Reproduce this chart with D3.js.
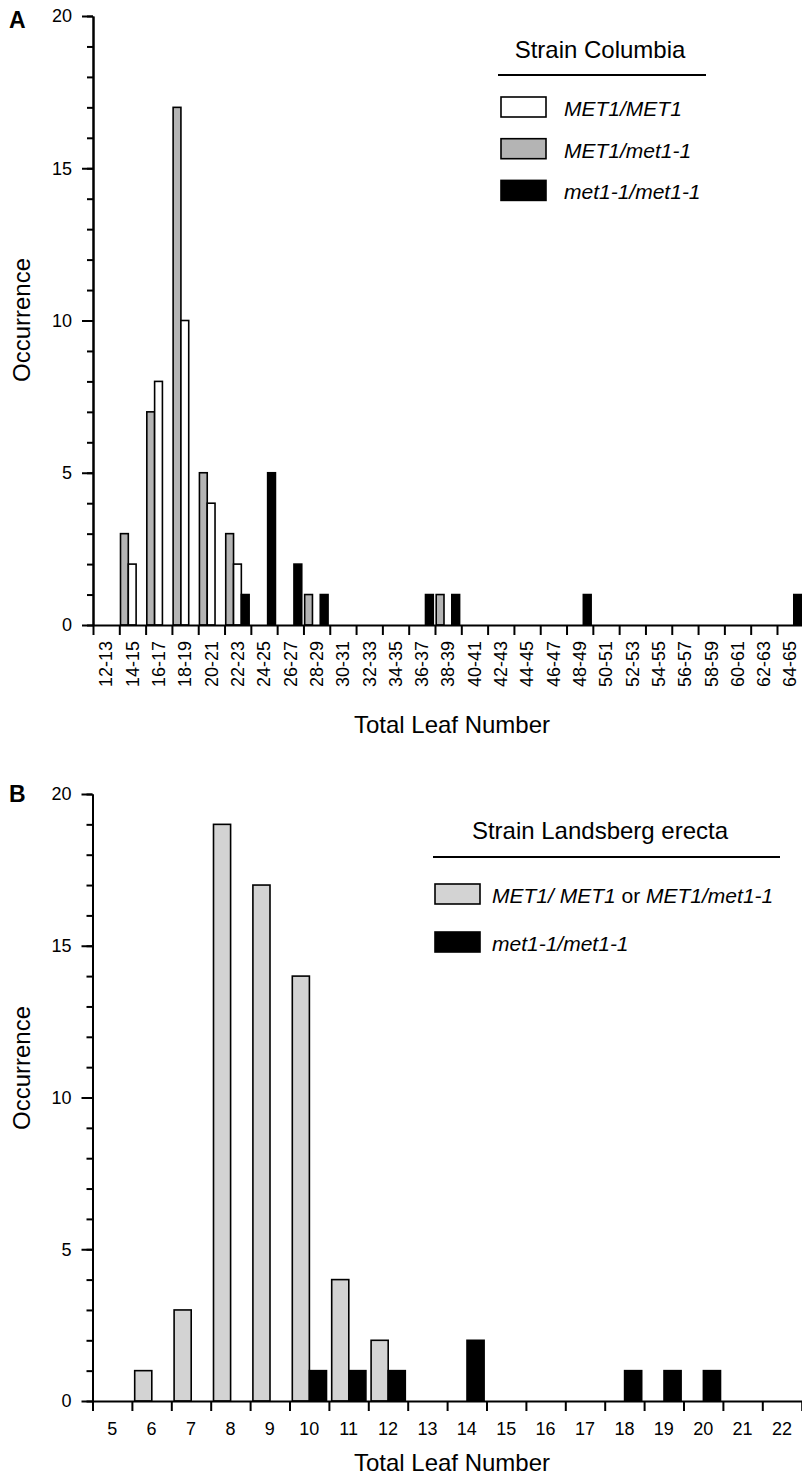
<!DOCTYPE html>
<html>
<head>
<meta charset="utf-8">
<script src="https://cdn.jsdelivr.net/npm/d3@7"></script>
<style>
  body { margin: 0; background: #fff; }
  svg { display: block; background: #fff; font-family: "Liberation Sans", Arial, Helvetica, sans-serif; }
  .domain, .tick line { stroke: #000; stroke-width: 2; }
  .tick text { font-size: 18px; fill: #000; font-family: "Liberation Sans", Arial, Helvetica, sans-serif; }
</style>
</head>
<body>
<div id="chart"></div>
<script>
// Panel A - strain Columbia
const colCategories = ["12-13", "14-15", "16-17", "18-19", "20-21", "22-23", "24-25", "26-27", "28-29",
  "30-31", "32-33", "34-35", "36-37", "38-39", "40-41", "42-43", "44-45", "46-47", "48-49",
  "50-51", "52-53", "54-55", "56-57", "58-59", "60-61", "62-63", "64-65"]
const colHet = [0, 3, 7, 17, 5, 3, 0, 0, 1, 0, 0, 0, 0, 1, 0, 0, 0, 0, 0, 0, 0, 0, 0, 0, 0, 0, 0]
const colWild = [0, 2, 8, 10, 4, 2, 0, 0, 0, 0, 0, 0, 0, 0, 0, 0, 0, 0, 0, 0, 0, 0, 0, 0, 0, 0, 0]
const colMutant = [0, 0, 0, 0, 0, 1, 5, 2, 1, 0, 0, 0, 1, 1, 0, 0, 0, 0, 1, 0, 0, 0, 0, 0, 0, 0, 1]

// Panel B - strain Landsberg erecta
const lerCategories = ["5", "6", "7", "8", "9", "10", "11", "12", "13", "14", "15", "16", "17", "18", "19", "20", "21", "22"]
const lerWild = [0, 1, 3, 19, 17, 14, 4, 2, 0, 0, 0, 0, 0, 0, 0, 0, 0, 0]
const lerMutant = [0, 0, 0, 0, 0, 1, 1, 1, 0, 2, 0, 0, 0, 1, 1, 1, 0, 0]

const yMajorTicks = [0, 5, 10, 15, 20]
const yMinorTicks = d3.range(0, 21)

const WIDTH = 802
const HEIGHT = 1476

const SVG = d3.select("#chart")
  .append("svg")
  .attr("width", WIDTH)
  .attr("height", HEIGHT)

function drawPanel(p) {
  const g = SVG.append("g")

  const x = d3.scaleBand().domain(p.categories).range([p.left, p.right])
  const xIdx = d3.scaleLinear().domain([0, p.categories.length]).range([p.left, p.right])
  const y = d3.scaleLinear().domain([0, 20]).range([p.bottom, p.top])
  const slot = d3.scaleBand().domain(p.series.map(s => s.name)).range(p.slotRange)

  // bars
  p.series.forEach(s => {
    g.selectAll(null)
      .data(s.values.map((v, i) => ({ cat: p.categories[i], v: v })).filter(d => d.v > 0))
      .join("rect")
      .attr("x", d => x(d.cat) + slot(s.name))
      .attr("y", d => y(d.v))
      .attr("width", slot.bandwidth())
      .attr("height", d => y(0) - y(d.v))
      .attr("fill", s.fill)
      .attr("stroke", "#000")
      .attr("stroke-width", 1.6)
  })

  // y axis: minor then major ticks
  g.append("g")
    .attr("transform", `translate(${p.left},0)`)
    .call(d3.axisLeft(y).tickValues(yMinorTicks).tickSize(6).tickSizeOuter(0).tickFormat(""))

  g.append("g")
    .attr("transform", `translate(${p.left},0)`)
    .call(d3.axisLeft(y).tickValues(yMajorTicks).tickSize(11).tickPadding(10).tickSizeOuter(0))

  // x axis: ticks on category boundaries
  g.append("g")
    .attr("transform", `translate(0,${p.bottom})`)
    .call(d3.axisBottom(xIdx).tickValues(d3.range(p.categories.length + 1)).tickSize(10).tickSizeOuter(0).tickFormat(""))

  // x labels centred in each category
  const xl = g.append("g")
    .attr("transform", `translate(0,${p.bottom})`)
    .call(d3.axisBottom(x).tickSize(0).tickSizeOuter(0).tickPadding(21))
  xl.select(".domain").remove()
  if (p.rotate) {
    xl.selectAll("text")
      .attr("transform", "rotate(-90)")
      .attr("text-anchor", "end")
      .attr("x", -16)
      .attr("y", 0)
      .attr("dy", "0.35em")
  }

  // axis titles
  g.append("text")
    .text("Total Leaf Number")
    .attr("x", p.xTitle[0])
    .attr("y", p.xTitle[1])
    .attr("text-anchor", "middle")
    .attr("font-size", 24)

  g.append("text")
    .text("Occurrence")
    .attr("transform", `translate(30,${p.yTitleY}) rotate(-90)`)
    .attr("text-anchor", "middle")
    .attr("font-size", 24)

  // panel letter
  g.append("text")
    .text(p.letter)
    .attr("x", 9)
    .attr("y", p.letterY)
    .attr("font-size", 23)
    .attr("font-weight", "bold")

  // legend
  const lg = p.legend
  g.append("text")
    .text(lg.title)
    .attr("x", lg.titleX)
    .attr("y", lg.titleY)
    .attr("text-anchor", "middle")
    .attr("font-size", 24)

  g.append("line")
    .attr("x1", lg.line[0]).attr("x2", lg.line[1])
    .attr("y1", lg.line[2]).attr("y2", lg.line[2])
    .attr("stroke", "#000")
    .attr("stroke-width", 2)

  const entries = g.selectAll("g.legend-entry")
    .data(lg.entries)
    .join("g")
    .attr("class", "legend-entry")
    .attr("transform", (d, i) => `translate(${lg.boxX},${lg.firstY + lg.step * i})`)

  entries.append("rect")
    .attr("width", 45)
    .attr("height", 20)
    .attr("fill", d => d.fill)
    .attr("stroke", "#000")
    .attr("stroke-width", 1.6)

  entries.append("text")
    .attr("x", lg.textDx)
    .attr("y", 19)
    .attr("font-size", 21)
    .selectAll("tspan")
    .data(d => d.label)
    .join("tspan")
    .text(d => d[0])
    .attr("font-style", d => d[1] ? "italic" : "normal")
}

const GRAY_A = "#b4b4b4"
const GRAY_B = "#d3d3d3"

drawPanel({
  letter: "A",
  letterY: 28,
  categories: colCategories,
  left: 93,
  right: 803.3,
  top: 16,
  bottom: 625,
  slotRange: [1.2, 24.6],
  rotate: true,
  series: [
    { name: "het", values: colHet, fill: GRAY_A },
    { name: "wild", values: colWild, fill: "#fff" },
    { name: "mutant", values: colMutant, fill: "#000" }
  ],
  xTitle: [452, 733],
  yTitleY: 320,
  legend: {
    title: "Strain Columbia",
    titleX: 600,
    titleY: 58,
    line: [498, 706, 75],
    boxX: 501,
    firstY: 97,
    step: 41.7,
    textDx: 63,
    entries: [
      { fill: "#fff", label: [["MET1/MET1", true]] },
      { fill: GRAY_A, label: [["MET1/met1-1", true]] },
      { fill: "#000", label: [["met1-1/met1-1", true]] }
    ]
  }
})

drawPanel({
  letter: "B",
  letterY: 802,
  categories: lerCategories,
  left: 92.5,
  right: 801.7,
  top: 794,
  bottom: 1401,
  slotRange: [2.8, 37],
  rotate: false,
  series: [
    { name: "wild", values: lerWild, fill: GRAY_B },
    { name: "mutant", values: lerMutant, fill: "#000" }
  ],
  xTitle: [452, 1471],
  yTitleY: 1068,
  legend: {
    title: "Strain Landsberg erecta",
    titleX: 600,
    titleY: 839,
    line: [433, 780, 857],
    boxX: 435,
    firstY: 884,
    step: 48,
    textDx: 57,
    entries: [
      { fill: GRAY_B, label: [["MET1/ MET1", true], [" or ", false], ["MET1/met1-1", true]] },
      { fill: "#000", label: [["met1-1/met1-1", true]] }
    ]
  }
})
</script>
</body>
</html>
